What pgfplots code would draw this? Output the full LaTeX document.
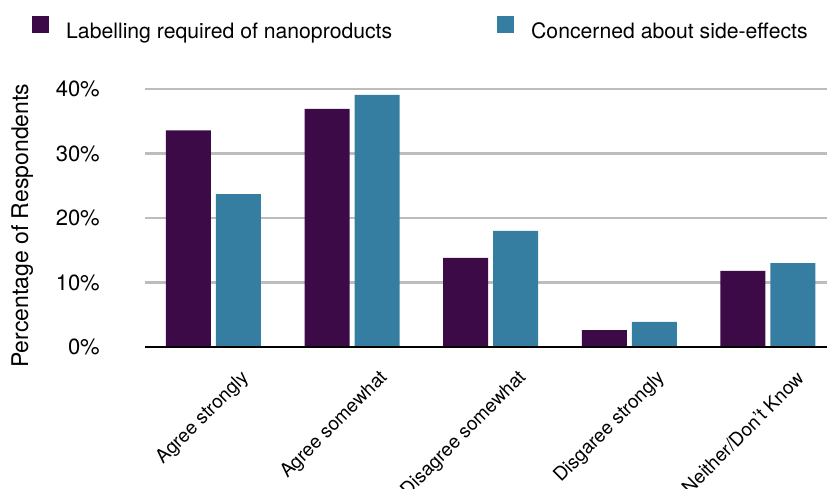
\documentclass[border=0pt]{standalone}
\usepackage{fontspec}
\setmainfont{TeX Gyre Heros}
\usepackage{pgfplots}
\pgfplotsset{compat=1.18}

\definecolor{labelc}{HTML}{3C0B47}
\definecolor{concc}{HTML}{357EA1}
\definecolor{gridc}{HTML}{BDBDBD}

\begin{document}
\begin{tikzpicture}
\useasboundingbox (0,0) rectangle (827pt,488pt);
\begin{axis}[
  at={(145pt,141pt)}, anchor=south west,
  scale only axis,
  width=682pt, height=258pt,
  xmin=-0.494, xmax=4.426,
  ymin=0, ymax=40,
  ybar=5pt, bar width=45pt,
  axis x line*=bottom,
  axis y line*=left,
  y axis line style={draw=none},
  x axis line style={draw=none},
  ymajorgrids,
  major grid style={gridc, line width=2.4pt},
  major tick length=0pt,
  ytick={0,10,20,30,40},
  yticklabel={\pgfmathprintnumber{\tick}\%},
  yticklabel style={font=\fontsize{22}{24}\selectfont, anchor=east, inner sep=0pt},
  yticklabel shift=45pt,
  xtick={0.235,1.235,2.235,3.235,4.235},
  xticklabels={Agree strongly, Agree somewhat, Disagree somewhat, Disgaree strongly, Neither/Don't Know},
  xticklabel style={font=\fontsize{19}{21}\selectfont, rotate=45, anchor=east, inner sep=0pt},
  xticklabel shift=28pt,
  /pgf/number format/assume math mode=true,
  ylabel={Percentage of Respondents},
  every axis y label/.style={at={(axis description cs:-0.18,0.47)}, rotate=90, anchor=center,
    font=\fontsize{23}{25}\selectfont},
  legend columns=2,
  legend style={at={(axis description cs:-0.1657,1.283)}, anchor=north west,
    draw=none, fill=none, inner sep=0pt,
    font=\fontsize{21.2}{24}\selectfont,
    nodes={inner sep=0pt},
    /tikz/every odd column/.append style={column sep=17pt},
    /tikz/every even column/.append style={column sep=105pt}},
  legend image code/.code={\fill[#1] (0pt,-2pt) rectangle (17pt,15pt);},
  clip=false,
]
\addplot[fill=labelc, draw=none] coordinates {(0,33.6) (1,36.9) (2,13.8) (3,2.6) (4,11.8)};
\addplot[fill=concc, draw=none] coordinates {(0,23.7) (1,39.1) (2,18.0) (3,3.9) (4,13.0)};
\draw[black, line width=2.7pt] (rel axis cs:0,0) -- (rel axis cs:1,0);
\legend{Labelling required of nanoproducts, Concerned about side-effects}
\end{axis}
\end{tikzpicture}
\end{document}
